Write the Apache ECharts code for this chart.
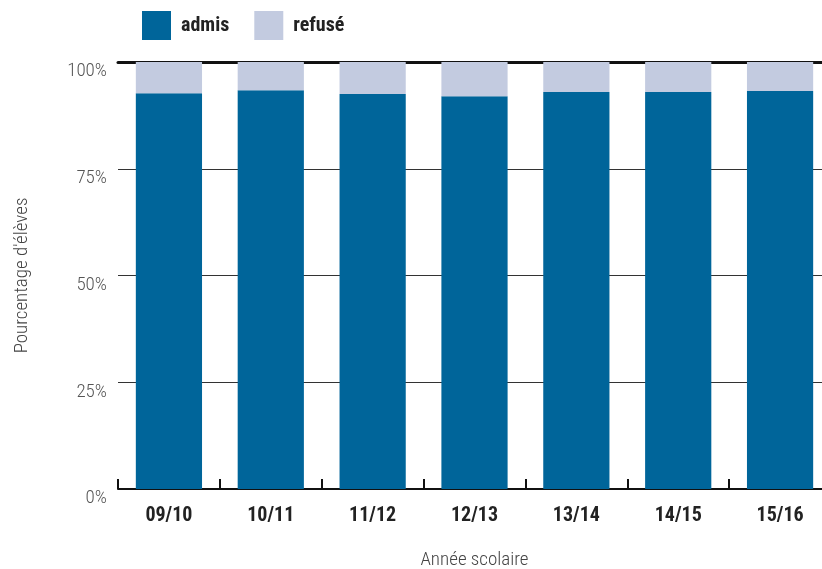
<!DOCTYPE html>
<html>
<head>
<meta charset="utf-8">
<script src="https://cdn.jsdelivr.net/npm/echarts@6/dist/echarts.min.js"></script>
<style>html,body{margin:0;padding:0;background:#fff}#c{width:822px;height:569px}</style>
</head>
<body>
<div id="c"></div>
<script>
const categories = ['09/10','10/11','11/12','12/13','13/14','14/15','15/16'];
const admis = [92.7, 93.4, 92.5, 92.0, 93.0, 93.0, 93.2];
const refuse = [7.3, 6.6, 7.5, 8.0, 7.0, 7.0, 6.8];
const yTicks = [0, 25, 50, 75, 100];

const FONT = "'Roboto Condensed','Liberation Sans Narrow','Arial Narrow',Roboto,sans-serif";
const chart = echarts.init(document.getElementById('c'));
chart.setOption({
  animation: false,
  textStyle: { fontFamily: FONT },
  legend: {
    left: 137, top: 6,
    itemWidth: 29, itemHeight: 29, itemGap: 25,
    icon: 'rect',
    textStyle: { fontFamily: FONT, fontWeight: 'bold', fontSize: 20, color: '#222', padding: [0, 0, 0, 5] },
    data: ['admis', 'refusé']
  },
  grid: { left: 118, right: -9, top: 62, bottom: 80, outerBoundsMode: 'none', containLabel: false },
  xAxis: [{
    type: 'category',
    data: categories,
    axisLine: { show: true, lineStyle: { color: '#111', width: 2 } },
    axisTick: { show: true, inside: true, length: 10, lineStyle: { color: '#111', width: 2 } },
    axisLabel: { color: '#222', fontWeight: 'bold', fontSize: 20, margin: 17, fontFamily: FONT },
    name: 'Année scolaire',
    nameLocation: 'middle',
    nameGap: 62,
    nameTextStyle: { color: '#444', fontSize: 19, fontFamily: FONT, fontWeight: 300 }
  }, {
    type: 'category',
    position: 'top',
    data: categories,
    axisLine: { show: true, lineStyle: { color: '#111', width: 3 } },
    axisTick: { show: false },
    axisLabel: { show: false }
  }],
  yAxis: {
    type: 'value',
    min: yTicks[0], max: yTicks[yTicks.length - 1], interval: 25,
    axisLine: { show: false },
    axisTick: { show: false },
    axisLabel: { formatter: '{value}%', color: '#555', fontSize: 19, fontWeight: 300, margin: 11, verticalAlign: 'top', fontFamily: FONT },
    splitLine: { show: true, lineStyle: { color: '#333', width: 1 } },
    name: "Pourcentage d'élèves",
    nameLocation: 'middle',
    nameGap: 86,
    nameTextStyle: { color: '#444', fontSize: 19, fontWeight: 300, fontFamily: FONT }
  },
  series: [{
    name: 'admis', type: 'bar', stack: 't', data: admis, barWidth: '65%',
    itemStyle: { color: '#00659A' }, z: 3
  }, {
    name: 'refusé', type: 'bar', stack: 't', data: refuse, barWidth: '65%',
    itemStyle: { color: '#C3CBE0' }, z: 3
  }]
});
</script>
</body>
</html>
